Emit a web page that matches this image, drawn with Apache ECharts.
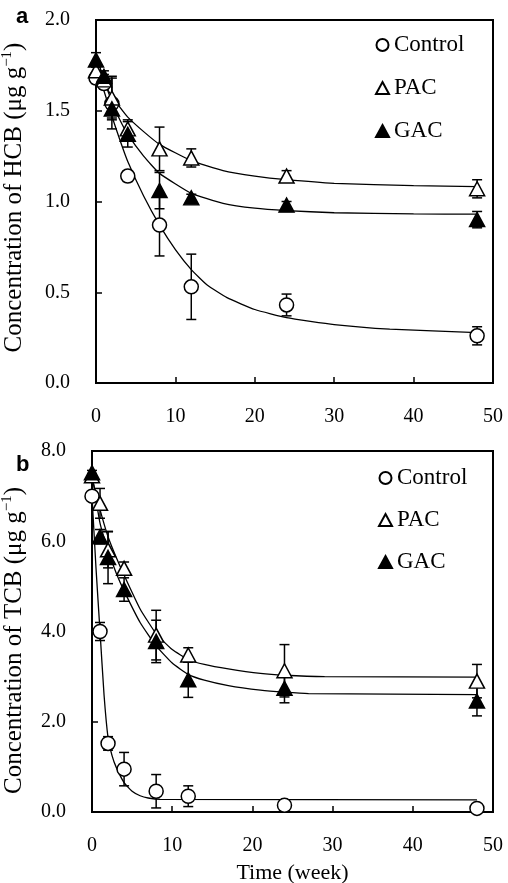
<!DOCTYPE html>
<html>
<head>
<meta charset="utf-8">
<script src="https://cdn.jsdelivr.net/npm/echarts@6/dist/echarts.min.js"></script>
<style>html,body{margin:0;padding:0;background:#fff}#c{width:508px;height:883px}</style>
</head>
<body>
<div id="c"></div>
<script>
// ---------- data ----------
const weeks = [0, 1, 2, 4, 8, 12, 24, 48];

// Panel a: HCB (µg g-1)
const hcbControl = [1.68, 1.65, 1.54, 1.14, 0.87, 0.53, 0.43, 0.26];
const hcbControlErr = [0.03, 0.03, 0.14, 0.03, 0.17, 0.18, 0.06, 0.05];
const hcbPAC = [1.72, 1.67, 1.57, 1.40, 1.29, 1.24, 1.14, 1.07];
const hcbPACErr = [0.03, 0.03, 0.12, 0.05, 0.12, 0.05, 0.03, 0.05];
const hcbGAC = [1.78, 1.69, 1.51, 1.37, 1.06, 1.02, 0.98, 0.90];
const hcbGACErr = [0.04, 0.03, 0.05, 0.07, 0.10, 0.02, 0.02, 0.045];

// fitted curves, panel a
const hcbControlFitX = [0.5, 1, 2, 3, 4, 6, 8, 10, 12, 14, 16.5, 20, 24, 30, 37, 48];
const hcbControlFitY = [1.67, 1.61, 1.47, 1.34, 1.22, 1.03, 0.87, 0.735, 0.625, 0.54, 0.47, 0.405, 0.36, 0.322, 0.297, 0.278];
const hcbPACFitX = [0.5, 1, 2, 3, 4, 6, 8, 12, 16, 20, 24, 30, 40, 48];
const hcbPACFitY = [1.69, 1.65, 1.58, 1.52, 1.465, 1.385, 1.315, 1.225, 1.17, 1.14, 1.12, 1.10, 1.088, 1.082];
const hcbGACFitX = [0.5, 1, 2, 3, 4, 6, 8, 12, 16, 20, 24, 30, 40, 48];
const hcbGACFitY = [1.74, 1.67, 1.55, 1.45, 1.37, 1.25, 1.155, 1.045, 0.99, 0.963, 0.95, 0.938, 0.932, 0.93];

// Panel b: TCB (µg g-1)
const tcbControl = [7.0, 4.0, 1.52, 0.95, 0.46, 0.35, 0.15, 0.08];
const tcbControlErr = [0.1, 0.2, 0.15, 0.37, 0.37, 0.23, 0.05, 0.05];
const tcbPAC = [7.45, 6.84, 5.81, 5.40, 3.92, 3.48, 3.13, 2.90];
const tcbPACErr = [0.05, 0.33, 0.40, 0.14, 0.55, 0.16, 0.58, 0.37];
const tcbGAC = [7.52, 6.10, 5.64, 4.93, 3.78, 2.93, 2.74, 2.46];
const tcbGACErr = [0.05, 0.16, 0.58, 0.26, 0.47, 0.39, 0.32, 0.33];

const tcbControlFitX = [0, 0.5, 1, 1.5, 2, 2.5, 3, 4, 5, 6, 7, 8.5, 48];
const tcbControlFitY = [7.0, 5.4, 4.0, 2.6, 1.65, 1.25, 1.0, 0.65, 0.46, 0.36, 0.31, 0.28, 0.27];
const tcbPACFitX = [0, 1, 2, 3, 4, 6, 8, 10, 12, 14, 17, 21, 24, 29, 48];
const tcbPACFitY = [7.4, 6.7, 6.1, 5.65, 5.25, 4.5, 3.95, 3.6, 3.38, 3.27, 3.17, 3.07, 3.03, 3.0, 2.99];
const tcbGACFitX = [0, 1, 2, 3, 4, 6, 8, 10, 12, 14, 17, 21, 24, 27, 48];
const tcbGACFitY = [7.5, 6.4, 5.8, 5.3, 4.9, 4.2, 3.68, 3.3, 3.05, 2.92, 2.8, 2.7, 2.655, 2.625, 2.6];

const seriesNames = ['Control', 'PAC', 'GAC'];

// ---------- helpers ----------
const SERIF = '"Liberation Serif", "Times New Roman", serif';
const pts = (xs, ys) => xs.map((x, i) => [x, ys[i]]);
const errs = (xs, ys, es) => xs.map((x, i) => [x, ys[i] - es[i], ys[i] + es[i]]);

function errRender(params, api) {
  const x = api.value(0), lo = api.value(1), hi = api.value(2);
  const p1 = api.coord([x, lo]), p2 = api.coord([x, hi]);
  const w = 5;
  const st = { stroke: '#000', lineWidth: 1.5, fill: null };
  return {
    type: 'group',
    children: [
      { type: 'line', shape: { x1: p1[0], y1: p1[1], x2: p2[0], y2: p2[1] }, style: st },
      { type: 'line', shape: { x1: p1[0] - w, y1: p1[1], x2: p1[0] + w, y2: p1[1] }, style: st },
      { type: 'line', shape: { x1: p2[0] - w, y1: p2[1], x2: p2[0] + w, y2: p2[1] }, style: st }
    ]
  };
}

const markerStyle = {
  Control: { symbol: 'circle', symbolSize: 14, itemStyle: { color: '#fff', borderColor: '#000', borderWidth: 1.5, opacity: 1 } },
  PAC: { symbol: 'triangle', symbolSize: [15, 14], itemStyle: { color: '#fff', borderColor: '#000', borderWidth: 1.5, opacity: 1 } },
  GAC: { symbol: 'triangle', symbolSize: [15, 14], itemStyle: { color: '#000', borderColor: '#000', borderWidth: 1.5, opacity: 1 } }
};

function panelSeries(idx, vals, errsArr, fits) {
  const out = [];
  seriesNames.forEach((n, k) => {
    out.push({
      name: n + ' fit ' + idx, type: 'line', xAxisIndex: idx, yAxisIndex: idx,
      data: pts(fits[k][0], fits[k][1]), showSymbol: false, smooth: 0.15,
      lineStyle: { color: '#000', width: 1.3 }, z: 2, silent: true
    });
  });
  seriesNames.forEach((n, k) => {
    out.push({
      name: n + ' err ' + idx, type: 'custom', xAxisIndex: idx, yAxisIndex: idx,
      renderItem: errRender, encode: { x: 0, y: [1, 2] },
      data: errs(weeks, vals[k], errsArr[k]), z: 3, silent: true
    });
  });
  seriesNames.forEach((n, k) => {
    out.push(Object.assign({
      name: n, type: 'scatter', xAxisIndex: idx, yAxisIndex: idx,
      data: pts(weeks, vals[k]), z: 5
    }, markerStyle[n]));
  });
  return out;
}

function xAxisCfg(idx, withName) {
  const cfg = {
    type: 'value', gridIndex: idx, min: 0, max: 50, interval: 10,
    axisLine: { onZero: false, lineStyle: { color: '#000', width: 2 } },
    axisTick: { inside: true, length: 6, lineStyle: { color: '#000', width: 1.5 } },
    axisLabel: { color: '#000', fontSize: 20, fontFamily: SERIF, margin: 24 },
    splitLine: { show: false }
  };
  if (withName) {
    cfg.name = 'Time (week)';
    cfg.nameLocation = 'middle';
    cfg.nameGap = 50;
    cfg.nameTextStyle = { color: '#000', fontSize: 22, fontFamily: SERIF };
  }
  return cfg;
}

function yAxisCfg(idx, max, interval, compound, gap, pad) {
  return {
    type: 'value', gridIndex: idx, min: 0, max: max, interval: interval,
    axisLine: { onZero: false, lineStyle: { color: '#000', width: 2 } },
    axisTick: { inside: true, length: 6, lineStyle: { color: '#000', width: 1.5 } },
    axisLabel: { color: '#000', fontSize: 20, fontFamily: SERIF, margin: 26, formatter: v => v.toFixed(1) },
    splitLine: { show: false },
    name: '{t|Concentration of ' + compound + ' (μg g}{s|−1}{t|)}',
    nameLocation: 'middle', nameRotate: 90, nameGap: gap,
    nameTextStyle: {
      color: '#000',
      padding: pad,
      rich: {
        t: { fontSize: 25, fontFamily: SERIF, color: '#000', lineHeight: 28 },
        s: { fontSize: 15, fontFamily: SERIF, color: '#000', lineHeight: 15, verticalAlign: 'top' }
      }
    }
  };
}

const legendCfg = (left, top, gap) => ({
  data: seriesNames, orient: 'vertical', left: left, top: top,
  itemWidth: 13, itemHeight: 12, itemGap: gap, selectedMode: false,
  textStyle: { color: '#000', fontSize: 23, fontFamily: SERIF, lineHeight: 26 }
});

const option = {
  animation: false,
  backgroundColor: '#fff',
  title: [
    { text: 'a', left: 11, top: 1, textStyle: { fontSize: 22, fontWeight: 'bold', fontFamily: '"Liberation Sans", Arial, sans-serif', color: '#000' } },
    { text: 'b', left: 11, top: 449, textStyle: { fontSize: 22, fontWeight: 'bold', fontFamily: '"Liberation Sans", Arial, sans-serif', color: '#000' } }
  ],
  legend: [legendCfg(370, 27, 17), legendCfg(373, 460, 16)],
  grid: [
    { left: 96, top: 20, width: 397, height: 363, show: true, borderColor: '#000', borderWidth: 2, outerBoundsMode: 'none', containLabel: false },
    { left: 92, top: 451, width: 401, height: 361, show: true, borderColor: '#000', borderWidth: 2, outerBoundsMode: 'none', containLabel: false }
  ],
  xAxis: [xAxisCfg(0, false), xAxisCfg(1, true)],
  yAxis: [yAxisCfg(0, 2, 0.5, 'HCB', 68, [0, 0, 0, 8]), yAxisCfg(1, 8, 2, 'TCB', 64, [0, 18, 0, 0])],
  series: [].concat(
    panelSeries(0, [hcbControl, hcbPAC, hcbGAC], [hcbControlErr, hcbPACErr, hcbGACErr],
      [[hcbControlFitX, hcbControlFitY], [hcbPACFitX, hcbPACFitY], [hcbGACFitX, hcbGACFitY]]),
    panelSeries(1, [tcbControl, tcbPAC, tcbGAC], [tcbControlErr, tcbPACErr, tcbGACErr],
      [[tcbControlFitX, tcbControlFitY], [tcbPACFitX, tcbPACFitY], [tcbGACFitX, tcbGACFitY]])
  )
};

const chart = echarts.init(document.getElementById('c'), null, { renderer: 'canvas' });
chart.setOption(option);
</script>
</body>
</html>
